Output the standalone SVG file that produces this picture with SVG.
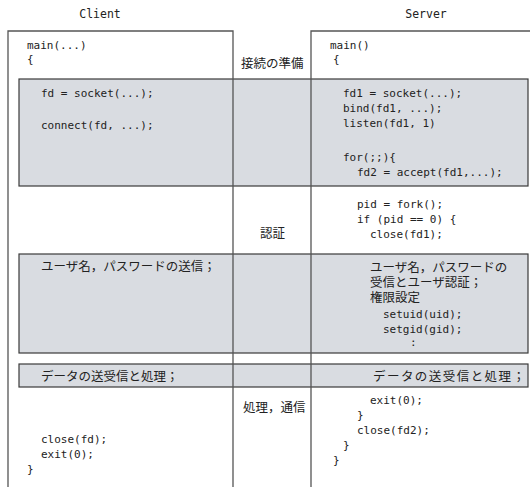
<svg xmlns="http://www.w3.org/2000/svg" width="530" height="487" viewBox="0 0 530 487">
<style>
.bg{fill:#ffffff}
.band{fill:#d9dce1;stroke:#3a3a3a;stroke-width:1.2}
.ln{stroke:#555555;stroke-width:1.3;fill:none}
.code{font-family:"DejaVu Sans Mono","Liberation Mono",monospace;font-size:11px;fill:#222222}
.jp{font-family:"Noto Sans CJK JP","Noto Sans CJK SC",sans-serif;font-size:12.5px;fill:#222222}
.hd{font-family:"DejaVu Sans Mono","Liberation Mono",monospace;font-size:11.5px;fill:#222222}
</style>
<rect class="bg" x="0" y="0" width="530" height="487"/>
<g id="bands">
<rect class="band" x="19" y="79" width="509" height="107"/>
<rect class="band" x="19" y="254" width="509" height="99"/>
<rect class="band" x="19" y="364" width="509" height="23"/>
</g>
<g id="frames">
<path class="ln" d="M8,487 V31 H233 V487"/>
<path class="ln" d="M311,487 V31 H530"/>
</g>
<g id="headers">
<text class="hd" x="100" y="18" text-anchor="middle">Client</text>
<text class="hd" x="426" y="18" text-anchor="middle">Server</text>
</g>
<g id="client">
<text class="code" x="27" y="49">main(...)</text>
<text class="code" x="27" y="63">{</text>
<text class="code" x="41" y="97">fd = socket(...);</text>
<text class="code" x="41" y="129">connect(fd, ...);</text>
<text class="jp" x="41" y="271">ユーザ名，パスワードの送信；</text>
<text class="jp" x="41" y="381">データの送受信と処理；</text>
<text class="code" x="41" y="443">close(fd);</text>
<text class="code" x="41" y="458">exit(0);</text>
<text class="code" x="27" y="473">}</text>
</g>
<g id="phases">
<text class="jp" x="241" y="68">接続の準備</text>
<text class="jp" x="260" y="238">認証</text>
<text class="jp" x="243" y="412">処理，通信</text>
</g>
<g id="server">
<text class="code" x="330" y="49">main()</text>
<text class="code" x="333" y="63">{</text>
<text class="code" x="343" y="97">fd1 = socket(...);</text>
<text class="code" x="343" y="112">bind(fd1, ...);</text>
<text class="code" x="343" y="127">listen(fd1, 1)</text>
<text class="code" x="343" y="161">for(;;){</text>
<text class="code" x="357" y="176">fd2 = accept(fd1,...);</text>
<text class="code" x="357" y="208">pid = fork();</text>
<text class="code" x="357" y="223">if (pid == 0) {</text>
<text class="code" x="370" y="238">close(fd1);</text>
<text class="jp" x="370" y="272">ユーザ名，パスワードの<tspan x="370" dy="15">受信とユーザ認証；</tspan><tspan x="370" dy="15">権限設定</tspan></text>
<text class="code" x="383" y="318">setuid(uid);</text>
<text class="code" x="383" y="333">setgid(gid);</text>
<text class="code" x="410" y="346">:</text>
<text class="jp" x="373" y="381" textLength="152" lengthAdjust="spacing">データの送受信と処理；</text>
<text class="code" x="370" y="404">exit(0);</text>
<text class="code" x="357" y="419">}</text>
<text class="code" x="357" y="434">close(fd2);</text>
<text class="code" x="343" y="449">}</text>
<text class="code" x="333" y="464">}</text>
</g>
</svg>
